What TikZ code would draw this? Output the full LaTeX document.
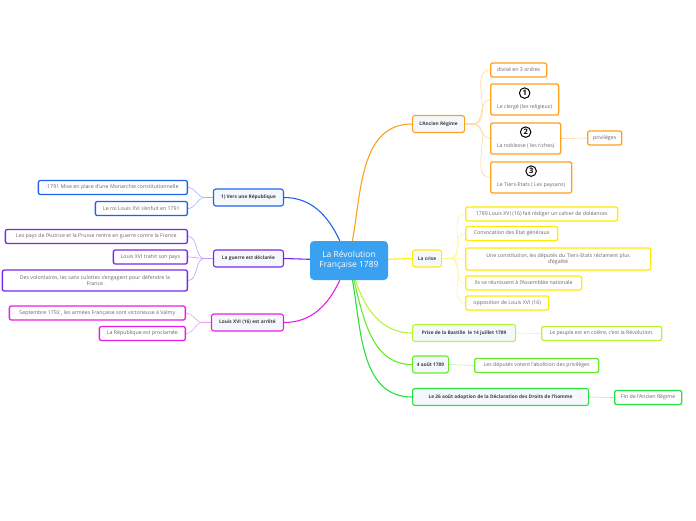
\documentclass[tikz,border=0pt]{standalone}
\usepackage{fontspec}
\setmainfont{Open Sans}
\usetikzlibrary{positioning,backgrounds}

\definecolor{racine}{RGB}{58,160,240}
\definecolor{orangeb}{RGB}{255,160,30}
\definecolor{jauneb}{RGB}{255,236,0}
\definecolor{vertclair}{RGB}{185,245,50}
\definecolor{vertb}{RGB}{100,235,40}
\definecolor{vertf}{RGB}{40,225,60}
\definecolor{bleub}{RGB}{30,100,235}
\definecolor{violetb}{RGB}{120,40,235}
\definecolor{magentab}{RGB}{230,30,230}
\definecolor{fondtheme}{RGB}{244,248,252}
\definecolor{textegris}{RGB}{105,105,105}

\begin{document}
\begin{tikzpicture}[x=1pt,y=-1pt,
  racinebox/.style={rectangle, rounded corners=4pt, fill=racine, text=white,
    font=\fontsize{8.5}{10}\selectfont, align=center, minimum width=78pt, minimum height=39pt},
  theme/.style={rectangle, rounded corners=2.5pt, draw=#1, line width=1.1pt, fill=fondtheme,
    text=black!75, font=\bfseries\fontsize{4.8}{5.5}\selectfont, minimum height=17pt, inner xsep=2.5pt},
  sousbox/.style={rectangle, rounded corners=2pt, draw=#1, line width=1.3pt, fill=white,
    text=textegris, font=\fontsize{5.25}{6.5}\selectfont, minimum height=14pt, inner xsep=2.5pt},
  numbox/.style={sousbox=#1, minimum height=31pt, text height=19pt, text depth=1pt, inner ysep=3pt},
  branche/.style={draw=#1, line width=1.1pt},
  rameau/.style={draw=#1!45, line width=0.6pt},
  num/.style={circle, draw=black, line width=1pt, inner sep=0.8pt, minimum size=10.5pt,
    font=\bfseries\fontsize{7.5}{8}\selectfont}
]
  \useasboundingbox (0,0) rectangle (696,520);

  % Idée centrale
  \node[racinebox] (racine) at (349,260.5) {La Révolution\\Française 1789};

  % L'Ancien Régime
  \node[theme=orangeb, anchor=west, minimum width=52pt] (ancien) at (412,124) {L'Ancien Régime};
  \node[sousbox=orangeb, anchor=west, minimum width=56pt] (div) at (490,70) {divisé en 3 ordres};
  \node[numbox=orangeb, anchor=west, minimum width=68pt] (clerge) at (490,99.5) {Le clergé (les religieux)};
  \node[numbox=orangeb, anchor=west, minimum width=70pt] (noblesse) at (490,138.5) {La noblesse ( les riches)};
  \node[numbox=orangeb, anchor=west, minimum width=81pt] (tiers) at (490,177.5) {Le Tiers-Etats ( Les paysans)};
  \node[sousbox=orangeb, anchor=west, minimum width=34pt] (privileges) at (587,138) {privilèges};
  \node[num, below=4pt of clerge.north] (un) {1};
  \node[num, below=4pt of noblesse.north] (deux) {2};
  \node[num, below=4pt of tiers.north] (trois) {3};

  % La crise
  \node[theme=jauneb, anchor=west, minimum width=29pt] (crise) at (412,258.5) {La crise};
  \node[sousbox=jauneb, anchor=west, minimum width=152pt] (doleances) at (465,214) {1789 Louis XVI (16) fait rédiger un cahier de doléances};
  \node[sousbox=jauneb, anchor=west, minimum width=92pt] (etats) at (465,233.5) {Convocation des Etat généraux};
  \node[sousbox=jauneb, anchor=west, minimum width=185pt, minimum height=22pt, align=center] (constitution) at (465,259)
    {Une constitution, les députés du Tiers-Etats réclament plus\\d'égalité};
  \node[sousbox=jauneb, anchor=west, minimum width=116pt] (assemblee) at (465,283) {Ils se réunissent à l'Assemblée nationale};
  \node[sousbox=jauneb, anchor=west, minimum width=83pt] (opposition) at (465,303) {opposition de Louis XVI (16)};

  % Les événements de 1789
  \node[theme=vertclair, anchor=west, minimum width=103pt] (bastille) at (412,333) {Prise de la Bastille\ \ le 14 juillet 1789};
  \node[sousbox=vertclair, anchor=west, minimum width=120pt] (peuple) at (541,333.5) {Le peuple est en colère, c'est la Révolution.};
  \node[theme=vertb, anchor=west, minimum width=36pt] (aout) at (412,364.5) {4 août 1789};
  \node[sousbox=vertb, anchor=west, minimum width=124pt] (abolition) at (474,365.5) {Les députés votent l'abolition des privilèges};
  \node[theme=vertf, anchor=west, minimum width=176pt] (declaration) at (412,397) {Le 26 août adoption de la Déclaration des Droits de l'homme};
  \node[sousbox=vertf, anchor=west, minimum width=67pt] (fin) at (614,397.5) {Fin de l'Ancien Régime};

  % Vers une République
  \node[theme=bleub, anchor=east, minimum width=70pt] (vers) at (284,197.5) {1) Vers une République};
  \node[sousbox=bleub, anchor=east, minimum width=149pt] (monarchie) at (188,187.5) {1791 Mise en place d'une Monarchie constitutionnelle};
  \node[sousbox=bleub, anchor=east, minimum width=92pt] (fuite) at (188,208.5) {Le roi Louis XVI s'enfuit en 1791};

  % La guerre
  \node[theme=violetb, anchor=east, minimum width=70pt] (guerre) at (284,258.5) {La guerre est déclarée};
  \node[sousbox=violetb, anchor=east, minimum width=182pt] (prusse) at (188,236.5) {Les pays de l'Autrice et la Prusse rentre en guerre contre la France};
  \node[sousbox=violetb, anchor=east, minimum width=74pt] (trahison) at (188,257) {Louis XVI trahit son pays};
  \node[sousbox=violetb, anchor=east, minimum width=185pt, minimum height=21pt, align=center] (volontaires) at (188,280.5)
    {Des volontaires, les sans culottes s'engagent pour défendre la\\France};

  % L'arrestation
  \node[theme=magentab, anchor=east, minimum width=72pt] (arrete) at (284,322.5) {Louis XVI (16) est arrêté};
  \node[sousbox=magentab, anchor=east, minimum width=176pt] (valmy) at (186,313) {Septembre 1792 , les armées Française sont victorieuse à Valmy};
  \node[sousbox=magentab, anchor=east, minimum width=86pt] (republique) at (186,333.5) {La République est proclamée};

  % Branches
  \begin{pgfonlayer}{background}
    \draw[branche=orangeb] (racine) to[out=80,in=180] (ancien.west);
    \draw[branche=jauneb] (racine) -- (crise.west);
    \draw[branche=vertclair] (racine) to[out=-72,in=180] (bastille.west);
    \draw[branche=vertb] (racine) to[out=-76,in=180] (aout.west);
    \draw[branche=vertf] (racine) to[out=-80,in=180] (declaration.west);
    \draw[branche=bleub] (racine) to[out=115,in=0] (vers.east);
    \draw[branche=violetb] (racine) -- (guerre.east);
    \draw[branche=magentab] (racine) to[out=-115,in=0] (arrete.east);

    \foreach \c in {div,clerge,noblesse,tiers}
      \draw[rameau=orangeb] (ancien.east) -- ++(8,0) to[out=0,in=180] (\c.west);
    \draw[rameau=orangeb] (noblesse.east) -- (privileges.west);
    \foreach \c in {doleances,etats,constitution,assemblee,opposition}
      \draw[rameau=jauneb] (crise.east) -- ++(8,0) to[out=0,in=180] (\c.west);
    \draw[rameau=vertclair] (bastille.east) -- (peuple.west);
    \draw[rameau=vertb] (aout.east) -- (abolition.west);
    \draw[rameau=vertf] (declaration.east) -- (fin.west);
    \foreach \c in {monarchie,fuite}
      \draw[rameau=bleub] (vers.west) -- ++(-8,0) to[out=180,in=0] (\c.east);
    \foreach \c in {prusse,trahison,volontaires}
      \draw[rameau=violetb] (guerre.west) -- ++(-8,0) to[out=180,in=0] (\c.east);
    \foreach \c in {valmy,republique}
      \draw[rameau=magentab] (arrete.west) -- ++(-8,0) to[out=180,in=0] (\c.east);
  \end{pgfonlayer}
\end{tikzpicture}
\end{document}
